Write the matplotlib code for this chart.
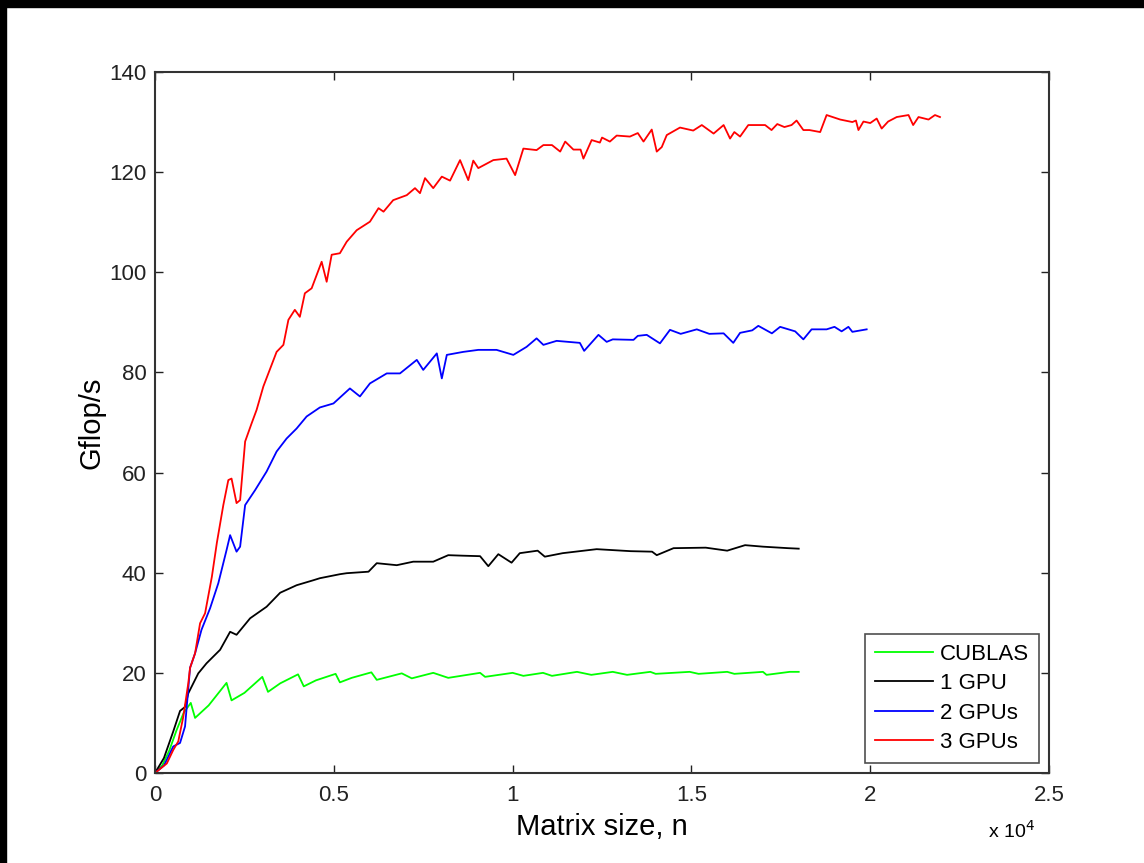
import matplotlib
matplotlib.use("Agg")
import matplotlib.pyplot as plt
from matplotlib.patches import Rectangle
from matplotlib.ticker import FuncFormatter

# CUBLAS
n_cublas = [0, 200, 400, 600, 800, 1000, 1120, 1500, 2000, 2140, 2500, 3000, 3160, 3500, 4000,
            4160, 4500, 5050, 5170, 5500, 6050, 6200, 6900, 7180, 7780, 8200, 9090, 9230, 10000, 10300,
            10850, 11100, 11800, 12200, 12800, 13200, 13850, 14000, 14950, 15200, 16000, 16200, 17000,
            17100, 17750, 18000]
g_cublas = [0, 1.5, 4.5, 8.5, 12, 14, 11, 13.5, 18, 14.5, 16, 19.2, 16.2, 17.9, 19.7,
            17.3, 18.5, 19.8, 18.1, 19, 20.1, 18.6, 19.9, 18.9, 20.0, 19.0, 20.0, 19.2, 20.0, 19.4,
            20.0, 19.4, 20.2, 19.6, 20.2, 19.6, 20.2, 19.8, 20.2, 19.8, 20.2, 19.8, 20.2,
            19.6, 20.2, 20.2]

# 1 GPU
n_1gpu = [0, 250, 510, 700, 840, 930, 1210, 1440, 1820, 2100, 2280, 2660, 3120, 3500, 3960,
          4430, 4610, 5170, 5360, 5970, 6200, 6760, 7220, 7780, 8200, 8600, 9090, 9320, 9600, 9970,
          10200, 10700, 10900, 11400, 12350, 13300, 13900, 14030, 14500, 15400, 16000, 16500, 17000,
          17700, 18000]
g_1gpu = [0, 3, 8.3, 12.4, 13.2, 15.9, 19.9, 21.9, 24.6, 28.2, 27.6, 30.9, 33.2, 36, 37.5,
          38.5, 38.9, 39.7, 39.9, 40.2, 41.9, 41.5, 42.2, 42.2, 43.5, 43.4, 43.3, 41.3, 43.7, 42.0,
          43.9, 44.4, 43.2, 43.9, 44.7, 44.3, 44.2, 43.5, 44.9, 45.0, 44.4, 45.5, 45.2,
          44.9, 44.8]

# 2 GPUs
n_2gpu = [0, 250, 510, 700, 840, 980, 1120, 1300, 1540, 1770, 2000, 2100, 2280, 2380, 2520,
          2800, 3120, 3400, 3680, 3960, 4240, 4610, 4990, 5450, 5730, 6010, 6480, 6850, 7320, 7500,
          7880, 8020, 8160, 8620, 9040, 9550, 10020, 10390, 10670, 10860, 11230, 11880, 12000, 12400,
          12630, 12800, 13380, 13500, 13750, 14120, 14400, 14700, 15150, 15500, 15900, 16170, 16360,
          16700, 16870, 17250, 17480, 17900, 18130, 18360, 18780, 19000, 19200, 19390, 19500, 19900]
g_2gpu = [0, 1.5, 5.3, 6.0, 9.3, 21.0, 23.9, 28.6, 32.9, 37.9, 44.5, 47.5, 44.2, 45.2, 53.5,
          56.5, 60.2, 64.2, 66.8, 68.8, 71.2, 73.0, 73.8, 76.8, 75.2, 77.8, 79.8, 79.8, 82.5, 80.5,
          83.8, 78.8, 83.5, 84.1, 84.5, 84.5, 83.5, 85.1, 86.8, 85.5, 86.3, 85.9, 84.3, 87.5,
          86.1, 86.6, 86.5, 87.3, 87.5, 85.8, 88.5, 87.7, 88.6, 87.7, 87.8, 85.9, 87.9,
          88.4, 89.3, 87.8, 89.1, 88.2, 86.6, 88.6, 88.6, 89.1, 88.2, 89.1, 88.1, 88.6]

# 3 GPUs
n_3gpu = [0, 330, 510, 650, 790, 930, 980, 1120, 1260, 1400, 1590, 1730, 1910, 2050, 2140,
          2280, 2380, 2520, 2700, 2840, 3030, 3400, 3590, 3730, 3910, 4050, 4190, 4380, 4660, 4800,
          4940, 5170, 5360, 5640, 6010, 6250, 6390, 6660, 7040, 7270, 7410, 7550, 7780, 8020, 8250,
          8530, 8760, 8900, 9040, 9460, 9830, 10070, 10300, 10670, 10860, 11100, 11330, 11470, 11700,
          11900, 11980, 12210, 12440, 12500, 12720, 12910, 13280, 13500, 13660, 13890, 14030, 14170,
          14310, 14680, 15050, 15290, 15620, 15900, 16080, 16200, 16360, 16590, 17060, 17240, 17400,
          17600, 17800, 17940, 18130, 18300, 18600, 18780, 19160, 19500, 19600, 19670, 19810, 20000,
          20180, 20320, 20500, 20740, 21070, 21200, 21350, 21630, 21810, 21950]
g_3gpu = [0, 1.9, 4.6, 6.3, 11.2, 17.9, 21.0, 23.9, 29.9, 31.9, 39.2, 46.0, 53.5, 58.5, 58.8,
          53.9, 54.5, 66.2, 69.8, 72.5, 77.2, 84.1, 85.5, 90.5, 92.5, 91.1, 95.8, 96.8, 102.1, 98.1,
          103.5, 103.8, 106.1, 108.4, 110.1, 112.8, 112.1, 114.4, 115.4, 116.8, 115.8, 118.8, 116.8,
          119.1, 118.3, 122.4, 118.4, 122.3, 120.8, 122.4, 122.7, 119.4, 124.7, 124.4, 125.4, 125.4,
          124.1, 126.1, 124.5, 124.5, 122.7, 126.4, 125.9, 126.9, 126.1, 127.3, 127.1, 127.8, 126.1,
          128.5, 124.1, 125.0, 127.4, 128.9, 128.3, 129.4, 127.7, 129.4, 126.7, 128.0, 127.1, 129.4,
          129.4, 128.4, 129.6, 129.0, 129.4, 130.3, 128.4, 128.4, 128.0, 131.4, 130.5, 130.0, 130.3,
          128.4, 130.1, 129.8, 130.7, 128.7, 130.1, 131.0, 131.4, 129.4, 131.0, 130.5, 131.4, 131.0]

x_ticks = [0, 5000, 10000, 15000, 20000, 25000]
y_ticks = [0, 20, 40, 60, 80, 100, 120, 140]

plt.rcParams['font.family'] = ['Liberation Sans', 'DejaVu Sans']

fig = plt.figure(figsize=(11.44, 8.63), dpi=100)
ax = fig.add_axes([0.1355, 0.1043, 0.7815, 0.8123])

ax.plot(n_cublas, g_cublas, color='#00ff00', lw=1.3, label='CUBLAS')
ax.plot(n_1gpu, g_1gpu, color='black', lw=1.3, label='1 GPU')
ax.plot(n_2gpu, g_2gpu, color='#0000ff', lw=1.3, label='2 GPUs')
ax.plot(n_3gpu, g_3gpu, color='#ff0000', lw=1.3, label='3 GPUs')

ax.set_xlim(0, 25000)
ax.set_ylim(0, 140)
ax.set_xticks(x_ticks)
ax.set_yticks(y_ticks)
ax.xaxis.set_major_formatter(FuncFormatter(lambda v, p: '%g' % (v / 1e4)))
ax.tick_params(direction='in', length=6, width=1, top=True, right=True,
               labelsize=16, colors='#222222')
ax.tick_params(axis='x', pad=9)
ax.tick_params(axis='y', pad=6)
for s in ax.spines.values():
    s.set_color('#333333')
    s.set_linewidth(1.5)

ax.set_xlabel('Matrix size, n', fontsize=21, labelpad=5)
ax.set_ylabel('Gflop/s', fontsize=21, labelpad=3)
ax.text(0.932, -0.082, r'x 10$^4$', transform=ax.transAxes, fontsize=14, ha='left', va='center')

leg = ax.legend(loc='lower right', fontsize=16, frameon=True, fancybox=False,
                handlelength=2.6, labelspacing=0.38, borderaxespad=0.45,
                handletextpad=0.3, borderpad=0.45)
leg.get_frame().set_edgecolor('#222222')
leg.get_frame().set_linewidth(1.2)

# black strips at top and left edges of the original image
fig.add_artist(Rectangle((0, 1 - 7 / 863), 1, 7 / 863, transform=fig.transFigure,
                         color='black', zorder=10))
fig.add_artist(Rectangle((0, 0), 6 / 1144, 1, transform=fig.transFigure,
                         color='black', zorder=10))

fig.savefig('out.png', dpi=100)
